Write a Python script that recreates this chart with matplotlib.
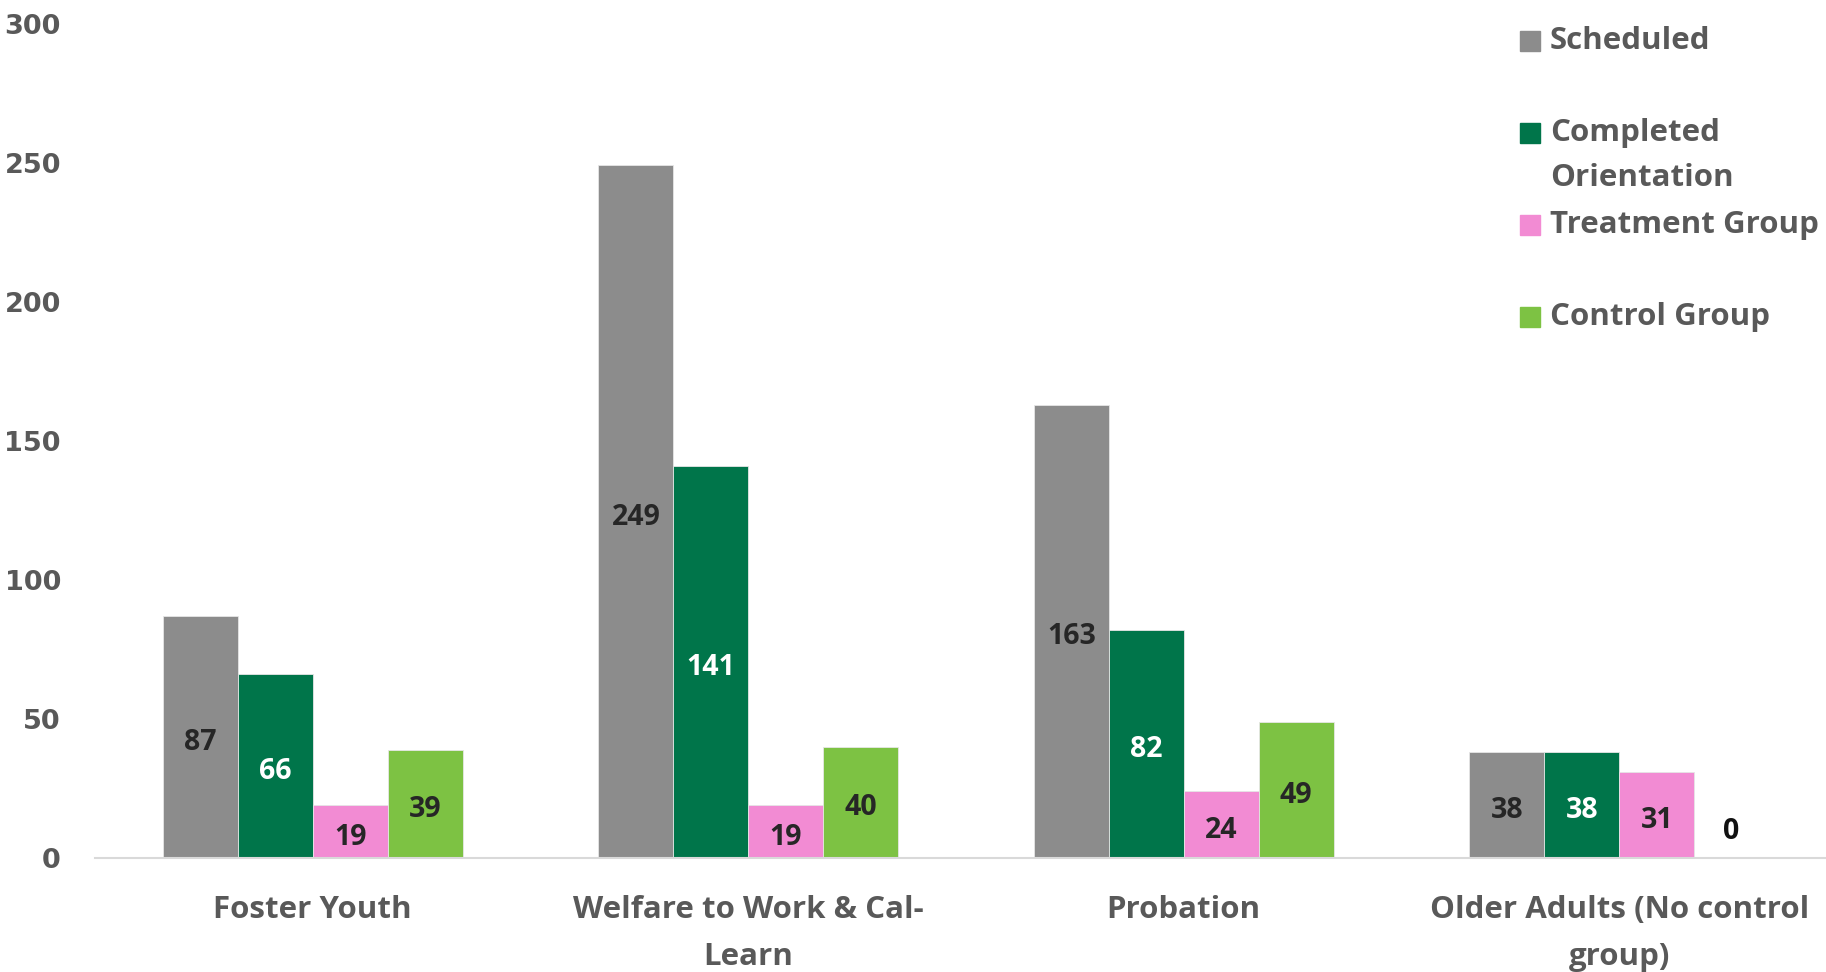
import numpy as np
import matplotlib.pyplot as plt
from matplotlib.patches import Rectangle

categories = ["Foster Youth", "Welfare to Work & Cal-\nLearn", "Probation",
              "Older Adults (No control\ngroup)"]
series_names = ["Scheduled", "Completed\nOrientation", "Treatment Group", "Control Group"]
scheduled = [87, 249, 163, 38]
completed = [66, 141, 82, 38]
treatment = [19, 19, 24, 31]
control = [39, 40, 49, 0]
yticks = [0, 50, 100, 150, 200, 250, 300]

colors = ["#8c8c8c", "#00754a", "#f28bd3", "#7dc243"]
label_colors = ["#262626", "white", "#262626", "#262626"]
text_grey = "#595959"
body_font = "Open Sans"

W, H = 1826, 972
fig = plt.figure(figsize=(W / 100, H / 100), dpi=100)
ax = fig.add_axes([95 / W, 1 - 858 / H, 4 * 435.5 / W, (858 - 23.5) / H])

x = np.arange(len(categories))
bar_w = 0.172
all_series = [scheduled, completed, treatment, control]
for i, vals in enumerate(all_series):
    pos = x + (i - 1.5) * bar_w
    bars = ax.bar(pos, vals, bar_w, color=colors[i], edgecolor="#e6e6e6", linewidth=0.6)
    for b, v in zip(bars, vals):
        if v > 0:
            ax.text(b.get_x() + b.get_width() / 2, v / 2 - 2, str(v), ha="center", va="center",
                    fontsize=20.5, fontweight="bold", family=body_font, color=label_colors[i])
        else:
            ax.annotate(str(v), (b.get_x() + b.get_width() / 2, v), xytext=(0, 19),
                        textcoords="offset points", ha="center", va="center",
                        fontsize=20.5, fontweight="bold", family=body_font, color="#111111")

ax.set_xlim(-0.5, len(categories) - 0.5)
ax.set_ylim(0, 300)
ax.set_yticks(yticks)
ax.set_xticks(x)
ax.set_xticklabels(categories, family=body_font, fontsize=22.5, fontweight="bold",
                   color=text_grey, linespacing=1.75)
for lab in ax.get_yticklabels():
    lab.set_fontfamily("DejaVu Sans")
    lab.set_fontweight("bold")
    lab.set_fontsize(19.5)
    lab.set_color(text_grey)
ax.tick_params(axis="y", length=0, pad=24.5)
ax.tick_params(axis="x", length=0, pad=26.5)
for s in ["top", "right", "left"]:
    ax.spines[s].set_visible(False)
ax.spines["bottom"].set_color("#d9d9d9")
ax.spines["bottom"].set_linewidth(1.5)

# legend drawn by hand, Excel-style fixed slots
slot_y = [41, 133, 225, 317]
for i, name in enumerate(series_names):
    yc = slot_y[i]
    fig.patches.append(Rectangle((1520 / W, 1 - (yc + 10) / H), 20 / W, 20 / H,
                                 transform=fig.transFigure, color=colors[i]))
    for j, line in enumerate(name.split("\n")):
        fig.text(1550 / W, 1 - (yc + j * 45) / H, line, ha="left", va="center",
                 family=body_font, fontsize=22.5, fontweight="bold", color=text_grey)

fig.savefig("out.png", dpi=100)
